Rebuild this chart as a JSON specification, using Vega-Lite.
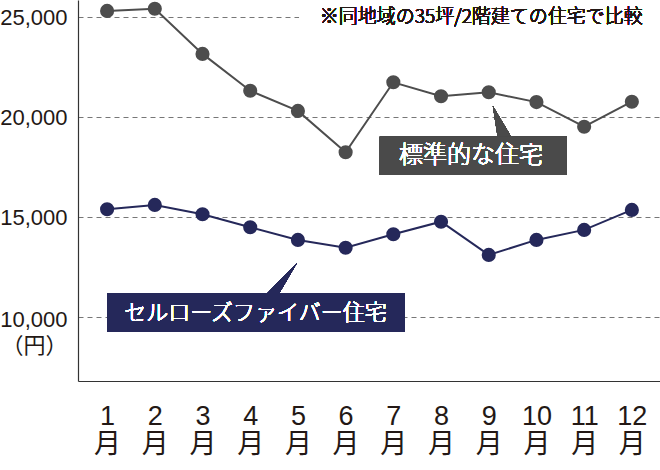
{
  "$schema": "https://vega.github.io/schema/vega-lite/v6.json",
  "width": 582,
  "height": 381,
  "autosize": {"type": "none"},
  "padding": {"left": 78, "top": 0, "right": 0, "bottom": 89},
  "background": "white",
  "config": {"view": {"stroke": null}},
  "data": {"values": [
    {"month": 1, "series": "標準的な住宅", "value": 25320},
    {"month": 2, "series": "標準的な住宅", "value": 25430},
    {"month": 3, "series": "標準的な住宅", "value": 23170},
    {"month": 4, "series": "標準的な住宅", "value": 21330},
    {"month": 5, "series": "標準的な住宅", "value": 20320},
    {"month": 6, "series": "標準的な住宅", "value": 18250},
    {"month": 7, "series": "標準的な住宅", "value": 21750},
    {"month": 8, "series": "標準的な住宅", "value": 21050},
    {"month": 9, "series": "標準的な住宅", "value": 21250},
    {"month": 10, "series": "標準的な住宅", "value": 20760},
    {"month": 11, "series": "標準的な住宅", "value": 19530},
    {"month": 12, "series": "標準的な住宅", "value": 20780},
    {"month": 1, "series": "セルローズファイバー住宅", "value": 15400},
    {"month": 2, "series": "セルローズファイバー住宅", "value": 15620},
    {"month": 3, "series": "セルローズファイバー住宅", "value": 15150},
    {"month": 4, "series": "セルローズファイバー住宅", "value": 14500},
    {"month": 5, "series": "セルローズファイバー住宅", "value": 13870},
    {"month": 6, "series": "セルローズファイバー住宅", "value": 13480},
    {"month": 7, "series": "セルローズファイバー住宅", "value": 14150},
    {"month": 8, "series": "セルローズファイバー住宅", "value": 14780},
    {"month": 9, "series": "セルローズファイバー住宅", "value": 13120},
    {"month": 10, "series": "セルローズファイバー住宅", "value": 13870},
    {"month": 11, "series": "セルローズファイバー住宅", "value": 14370},
    {"month": 12, "series": "セルローズファイバー住宅", "value": 15370}
  ]},
  "encoding": {
    "x": {
      "field": "month", "type": "quantitative",
      "scale": {"domain": [0.39, 12.59], "nice": false, "zero": false},
      "axis": {
        "orient": "bottom", "title": null, "values": [1,2,3,4,5,6,7,8,9,10,11,12],
        "labelExpr": "[format(datum.value, 'd'), '月']",
        "labelFont": "Liberation Sans, Noto Sans CJK JP", "labelFontSize": 27,
        "labelColor": "#231815", "labelBaseline": "top", "labelLineHeight": 28,
        "labelPadding": 22, "labelFlush": false, "labelOverlap": false,
        "ticks": false, "tickSize": 0, "grid": false,
        "domainColor": "#333333", "domainWidth": 1.2
      }
    },
    "y": {
      "field": "value", "type": "quantitative",
      "scale": {"domain": [6815, 25865], "nice": false, "zero": false},
      "axis": {
        "orient": "left", "title": null, "values": [10000, 15000, 20000, 25000],
        "labelExpr": "datum.value == 10000 ? ['10,000', '（円）'] : format(datum.value, ',')",
        "labelFont": "Liberation Sans, Noto Sans CJK JP", "labelFontSize": 22,
        "labelColor": "#231815", "labelPadding": 11, "labelLineHeight": 26,
        "labelOffset": {"condition": {"test": "datum.value == 10000", "value": 2}, "value": 0},
        "ticks": false, "tickSize": 0,
        "grid": true, "gridDash": [5, 4], "gridColor": "#777777", "gridWidth": 1,
        "domainColor": "#333333", "domainWidth": 1.2
      }
    }
  },
  "layer": [
    {
      "mark": {"type": "rect", "color": "white"},
      "encoding": {
        "x": {"datum": 5.04, "type": "quantitative"},
        "x2": {"datum": 12.59},
        "y": {"datum": 25465, "type": "quantitative"},
        "y2": {"datum": 24465}
      }
    },
    {
      "mark": {"type": "text", "align": "right", "baseline": "middle", "fontSize": 19, "fontWeight": 300, "font": "Noto Sans CJK SC", "color": "#231815"},
      "encoding": {
        "x": {"datum": 12.23, "type": "quantitative"},
        "y": {"datum": 25000, "type": "quantitative"},
        "text": {"value": "※同地域の35坪/2階建ての住宅で比較"}
      }
    },
    {
      "mark": {"type": "line", "strokeWidth": 2},
      "encoding": {
        "detail": {"field": "series"},
        "color": {"field": "series", "type": "nominal", "legend": null,
          "scale": {"domain": ["標準的な住宅", "セルローズファイバー住宅"], "range": ["#4d4d4d", "#25285a"]}}
      }
    },
    {
      "mark": {"type": "point", "filled": true, "opacity": 1, "size": 200, "shape": "circle"},
      "encoding": {
        "color": {"field": "series", "type": "nominal", "legend": null}
      }
    },
    {
      "mark": {"type": "point", "filled": true, "opacity": 1, "shape": "M-0.61,-1L-0.29,1.05L0.61,1.05Z", "size": 961, "color": "#4a4a4a"},
      "encoding": {
        "x": {"datum": 9.284, "type": "quantitative"},
        "y": {"datum": 19790, "type": "quantitative"}
      }
    },
    {
      "mark": {"type": "point", "filled": true, "opacity": 1, "shape": "M1,-1L-1,1.05L-0.2,1.05Z", "size": 900, "color": "#25285a"},
      "encoding": {
        "x": {"datum": 4.664, "type": "quantitative"},
        "y": {"datum": 11965, "type": "quantitative"}
      }
    },
    {
      "mark": {"type": "rect", "color": "#4a4a4a"},
      "encoding": {
        "x": {"datum": 6.717, "type": "quantitative"},
        "x2": {"datum": 10.635},
        "y": {"datum": 19030, "type": "quantitative"},
        "y2": {"datum": 17115}
      }
    },
    {
      "mark": {"type": "rect", "color": "#25285a"},
      "encoding": {
        "x": {"datum": 0.998, "type": "quantitative"},
        "x2": {"datum": 7.24},
        "y": {"datum": 11215, "type": "quantitative"},
        "y2": {"datum": 9265}
      }
    },
    {
      "mark": {"type": "text", "align": "center", "baseline": "middle", "fontSize": 24, "fontWeight": 300, "font": "Noto Sans CJK JP", "color": "white"},
      "encoding": {
        "x": {"datum": 8.63, "type": "quantitative"},
        "y": {"datum": 18065, "type": "quantitative"},
        "text": {"value": "標準的な住宅"}
      }
    },
    {
      "mark": {"type": "text", "align": "center", "baseline": "middle", "fontSize": 22, "fontWeight": 300, "font": "Noto Sans CJK JP", "color": "white"},
      "encoding": {
        "x": {"datum": 4.109, "type": "quantitative"},
        "y": {"datum": 10240, "type": "quantitative"},
        "text": {"value": "セルローズファイバー住宅"}
      }
    }
  ]
}
